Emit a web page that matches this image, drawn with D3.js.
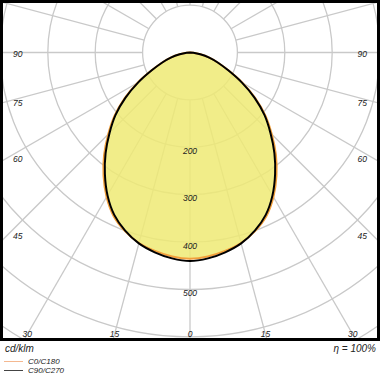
<!DOCTYPE html>
<html>
<head>
<meta charset="utf-8">
<script src="https://cdn.jsdelivr.net/npm/d3@7"></script>
<style>
  html, body { margin: 0; padding: 0; background: #fff; }
  svg { display: block; }
  text { font-family: "Liberation Sans", Arial, sans-serif; font-style: italic; fill: #222; }
</style>
</head>
<body>
<div id="chart"></div>
<script>
// gamma angles (deg from nadir) and intensities in cd/klm
const GAMMA = [0, 5, 10, 15, 20, 25, 30, 35, 40, 45, 50, 55, 60, 65, 70, 75, 80, 85, 90]
const C0_C180 = [435, 432, 425, 416, 401, 381, 352, 318, 282, 244, 208, 169, 128, 90, 63, 42, 22, 7, 0]
const C90_C270 = [440, 436, 428, 417, 400, 378, 348, 313, 277, 240, 205, 166, 126, 89, 63, 42, 22, 7, 0]

const RINGS = [100, 200, 300, 400, 500, 600, 700, 800, 900]
const RING_LABELS = [200, 300, 400, 500]
const ANGLE_LABELS = [0, 15, 30, 45, 60, 75, 90]
const SPOKES = d3.range(0, 360, 15)

const W = 380, H = 380
const frame = { x: 1.5, y: 1.5, w: 377, h: 338 }
const cx = 190, cy = 52.5

const r = d3.scaleLinear().domain([0, 100]).range([0, 47.4])

const svg = d3.select('#chart').append('svg')
    .attr('width', W)
    .attr('height', H)

svg.append('defs').append('clipPath')
    .attr('id', 'clip')
    .append('rect')
    .attr('x', frame.x)
    .attr('y', frame.y)
    .attr('width', frame.w)
    .attr('height', frame.h)

const plot = svg.append('g').attr('clip-path', 'url(#clip)')
const g = plot.append('g').attr('transform', `translate(${cx},${cy})`)

// grid
g.selectAll('circle.ring')
    .data(RINGS)
    .join('circle')
    .attr('class', 'ring')
    .attr('r', d => r(d))
    .attr('fill', 'none')
    .attr('stroke', '#c9c9c9')
    .attr('stroke-width', 1.3)

const rad = d => d * Math.PI / 180
g.selectAll('line.spoke')
    .data(SPOKES)
    .join('line')
    .attr('class', 'spoke')
    .attr('x1', d => r(100) * Math.sin(rad(d)))
    .attr('y1', d => r(100) * Math.cos(rad(d)))
    .attr('x2', d => r(1200) * Math.sin(rad(d)))
    .attr('y2', d => r(1200) * Math.cos(rad(d)))
    .attr('stroke', '#c9c9c9')
    .attr('stroke-width', 1.3)

// full curve from left (gamma 90) over nadir to right
function curvePoints(vals) {
    const pts = []
    for (let i = GAMMA.length - 1; i > 0; i--) pts.push([Math.PI + rad(GAMMA[i]), r(vals[i])])
    for (let i = 0; i < GAMMA.length; i++) pts.push([Math.PI - rad(GAMMA[i]), r(vals[i])])
    return pts
}

const line = d3.lineRadial()
    .angle(d => d[0])
    .radius(d => d[1])
    .curve(d3.curveCatmullRomClosed)

g.append('path')
    .attr('d', line(curvePoints(C0_C180)))
    .attr('fill', '#eeea74')
    .attr('fill-opacity', 0.85)
    .attr('stroke', 'none')

g.append('path')
    .attr('d', line(curvePoints(C0_C180)))
    .attr('fill', 'none')
    .attr('stroke', '#f2a03c')
    .attr('stroke-width', 2)

g.append('path')
    .attr('d', line(curvePoints(C90_C270)))
    .attr('fill', 'none')
    .attr('stroke', '#000')
    .attr('stroke-width', 2)

// ring labels
g.selectAll('text.ring')
    .data(RING_LABELS)
    .join('text')
    .attr('class', 'ring')
    .attr('x', 0)
    .attr('y', d => r(d) + 6.5)
    .attr('text-anchor', 'middle')
    .attr('font-size', 8.5)
    .text(d => d)

// angle labels where spokes meet the frame
const sideX = 182, bottomY = 282
const angleLabels = []
ANGLE_LABELS.forEach(a => {
    const sides = a === 0 ? [1] : [-1, 1]
    sides.forEach(s => {
        const t = Math.tan(rad(a))
        if (bottomY * t <= sideX) {
            angleLabels.push({ a, x: s * bottomY * t, y: bottomY, anchor: 'middle' })
        } else {
            angleLabels.push({ a, x: s * (sideX - 5), y: (a === 90 ? 0 : sideX / t) + 1.5, anchor: s < 0 ? 'start' : 'end' })
        }
    })
})

svg.append('g')
    .attr('transform', `translate(${cx},${cy})`)
    .selectAll('text')
    .data(angleLabels)
    .join('text')
    .attr('x', d => d.x)
    .attr('y', d => d.y)
    .attr('dy', '0.35em')
    .attr('text-anchor', d => d.anchor)
    .attr('font-size', 8.5)
    .text(d => d.a)

// frame
svg.append('rect')
    .attr('x', frame.x)
    .attr('y', frame.y)
    .attr('width', frame.w)
    .attr('height', frame.h)
    .attr('fill', 'none')
    .attr('stroke', '#000')
    .attr('stroke-width', 3)

// units and efficiency
svg.append('text')
    .attr('x', 5)
    .attr('y', 352)
    .attr('font-size', 10)
    .text('cd/klm')

svg.append('text')
    .attr('x', 376)
    .attr('y', 352)
    .attr('text-anchor', 'end')
    .attr('font-size', 10)
    .text('η = 100%')

// legend
const legend = [
    { name: 'C0/C180', color: '#f4b890' },
    { name: 'C90/C270', color: '#444' },
]
const lg = svg.append('g')
    .selectAll('g')
    .data(legend)
    .join('g')
    .attr('transform', (d, i) => `translate(4,${361.5 + i * 9})`)

lg.append('line')
    .attr('x1', 0)
    .attr('x2', 19)
    .attr('stroke', d => d.color)
    .attr('stroke-width', 1)

lg.append('text')
    .attr('x', 24)
    .attr('dy', '0.35em')
    .attr('font-size', 8)
    .attr('fill', '#444')
    .text(d => d.name)
</script>
</body>
</html>
